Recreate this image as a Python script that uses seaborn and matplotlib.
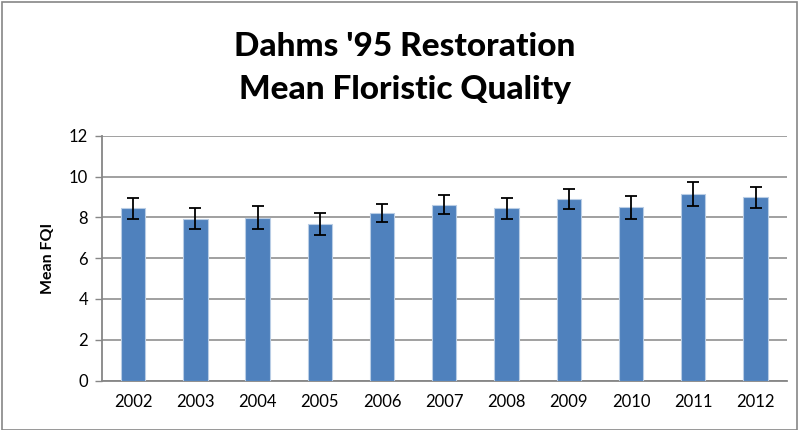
import numpy as np
import pandas as pd
import matplotlib
matplotlib.use("Agg")
import matplotlib.pyplot as plt
import seaborn as sns
from matplotlib.patches import Rectangle


# DATA

years = ["2002", "2003", "2004", "2005", "2006", "2007",
         "2008", "2009", "2010", "2011", "2012"]
mean_fqi = [8.44, 7.94, 7.99, 7.68, 8.21, 8.62, 8.44, 8.91, 8.49, 9.12, 8.99]
fqi_err = [0.52, 0.52, 0.56, 0.55, 0.46, 0.46, 0.51, 0.49, 0.55, 0.59, 0.51]

df = pd.DataFrame({"year": years, "fqi": mean_fqi, "err": fqi_err})


# PLOT

sns.set_style("white")
plt.rcParams["font.family"] = ["Lato", "DejaVu Sans"]
plt.rcParams["text.color"] = "black"
plt.rcParams["xtick.labelcolor"] = "black"
plt.rcParams["ytick.labelcolor"] = "black"
plt.rcParams["axes.labelcolor"] = "black"

fig = plt.figure(figsize=(7.99, 4.30), dpi=100)
ax = fig.add_axes([102 / 799, 1 - 380.5 / 430, (786.7 - 102) / 799, (380.5 - 135.7) / 430])

sns.barplot(data=df, x="year", y="fqi", color="#4F81BD", width=0.39,
            edgecolor="#B9CDE5", linewidth=0.8, saturation=1, errorbar=None, ax=ax, zorder=3)
ax.errorbar(np.arange(len(years)), df["fqi"], yerr=df["err"], fmt="none",
            ecolor="black", elinewidth=1.3, capsize=4, capthick=1.3, zorder=4)

ax.set_ylim(0, 12)
ax.set_xlim(-0.5, len(years) - 0.5)
ax.set_yticks(range(0, 13, 2))
ax.yaxis.grid(True, color="#868686", linewidth=1.1, zorder=0)
ax.set_axisbelow(True)

for side in ["top", "right"]:
    ax.spines[side].set_visible(False)
for side in ["left", "bottom"]:
    ax.spines[side].set_color("#868686")
    ax.spines[side].set_linewidth(1.3)

ax.set_xticks(np.arange(-0.5, len(years), 1.0), minor=True)
ax.tick_params(axis="x", which="major", length=0, pad=10, labelsize=12)
ax.tick_params(axis="x", which="minor", length=5, width=1, color="#868686", direction="out")
ax.tick_params(axis="y", length=5, width=1, color="#868686", direction="out", labelsize=12, pad=5)
ax.tick_params(left=True, bottom=True)

ax.set_xlabel("")
ax.set_ylabel("Mean FQI", fontsize=11.5, fontweight="bold", labelpad=10)

fig.text(0.507, 0.842, "Dahms '95 Restoration\nMean Floristic Quality", ha="center", va="center",
         fontsize=24, fontweight="black", linespacing=1.6)

fig.patches.append(Rectangle((2 / 799, 0), 795 / 799, 428 / 430, transform=fig.transFigure,
                             fill=False, edgecolor="#868686", linewidth=1.2))

plt.savefig("out.png", dpi=100)
plt.close()
